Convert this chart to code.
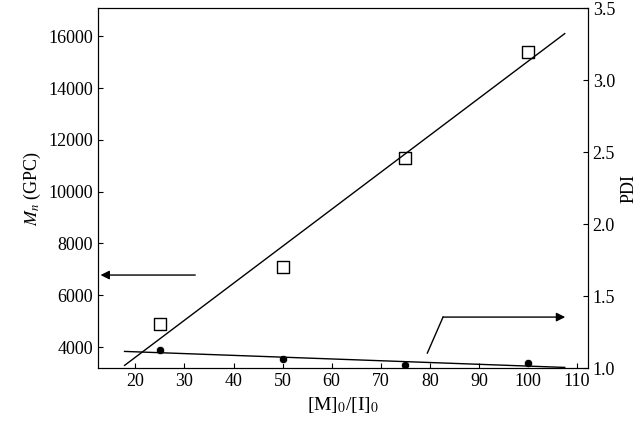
import numpy as np, pandas as pd, seaborn as sns, matplotlib
matplotlib.use("Agg")
import matplotlib.pyplot as plt

ratio = [25, 50, 75, 100]
mn = [4900, 7100, 11300, 15400]
pdi = [1.125, 1.06, 1.02, 1.035]

plt.rcParams["font.family"] = "Liberation Serif"
plt.rcParams["mathtext.fontset"] = "stix"
plt.rcParams["font.size"] = 13
plt.rcParams["xtick.direction"] = "in"
plt.rcParams["ytick.direction"] = "in"
df = pd.DataFrame({"r": ratio, "mn": mn, "pdi": pdi})

fig = plt.figure(figsize=(6.41, 4.34), dpi=100)
ax = fig.add_axes([0.153, 0.152, 0.764, 0.829])
ax2 = ax.twinx()

sns.scatterplot(data=df, x="r", y="mn", ax=ax, marker="s", s=80, facecolor="white", edgecolor="black", linewidth=1)
sns.scatterplot(data=df, x="r", y="pdi", ax=ax2, marker="o", s=35, color="black")
xf = np.array([17.8, 107.5])
p = np.polyfit(ratio, mn, 1); ax.plot(xf, np.polyval(p, xf), color="black", lw=1)
q = np.polyfit(ratio, pdi, 1); ax2.plot(xf, np.polyval(q, xf), color="black", lw=1)

ax.set_xlim(12.4, 112.2); ax.set_ylim(3190, 17080); ax2.set_ylim(1.0, 3.5)
ax.set_xticks(range(20, 111, 10)); ax.set_yticks(range(4000, 16001, 2000))
ax2.set_yticks(np.arange(1.0, 3.51, 0.5))
ax.set_xlabel("[M]$_0$/[I]$_0$", fontsize=14)
ax.set_ylabel("$M_n$ (GPC)", fontsize=13)
ax2.set_ylabel("PDI", fontsize=13)
ax.annotate("", xy=(12.9, 6780), xytext=(32.2, 6780), arrowprops=dict(arrowstyle="-|>", color="black", lw=1, shrinkA=0, shrinkB=0))
ax2.plot([79.5, 82.7], [1.104, 1.354], color="black", lw=1)
ax2.annotate("", xy=(107.6, 1.354), xytext=(82.7, 1.354), arrowprops=dict(arrowstyle="-|>", color="black", lw=1, shrinkA=0, shrinkB=0))
fig.savefig("out.png", dpi=100)
